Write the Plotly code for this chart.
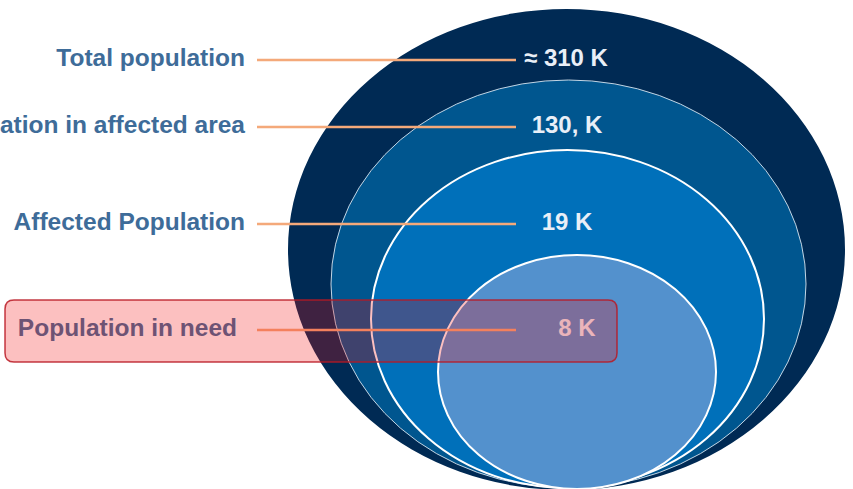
import plotly.graph_objects as go

# ---- data ----
categories = ["Total population", "Population in affected area",
              "Affected Population", "Population in need"]
value_labels = ["≈ 310 K", "130, K", "19 K", "8 K"]
highlighted = [False, False, False, True]

# ---- layout geometry (pixels of a 853x489 canvas) ----
W, H = 853, 489
row_y = [59, 126, 223, 329]
label_x = [245, 245, 245, 237]
line_x = [257, 516]
value_x = [566, 567, 567, 577]
# ellipse bounding boxes: x0, x1, y0, y1
ellipses = [
    (288, 845, 9, 490),
    (331, 806, 80, 488),
    (371, 764, 150, 488),
    (438, 716, 255, 489),
]
ell_fill = ["#002A54", "#00568F", "#0070BA", "#5391CD"]
ell_line = [None, "rgba(215,228,240,0.9)", "#FFFFFF", "#FFFFFF"]
ell_lw = [0, 1, 2, 2]

label_color = "#3E6C99"
value_color = "#E9EFF7"
leader_color = "#F4A97A"
FONT = "Liberation Sans, Arial, sans-serif"

fig = go.Figure()

shapes = []
for (x0, x1, y0, y1), fc, lc, lw in zip(ellipses, ell_fill, ell_line, ell_lw):
    shapes.append(dict(type="circle", xref="x", yref="y", x0=x0, x1=x1, y0=y0, y1=y1,
                       fillcolor=fc, line=dict(color=lc or fc, width=lw),
                       layer="below"))

# leader lines
for y in row_y:
    fig.add_trace(go.Scatter(x=line_x, y=[y + 1, y + 1], mode="lines",
                             line=dict(color=leader_color, width=2.5),
                             hoverinfo="skip", showlegend=False))

# category labels
fig.add_trace(go.Scatter(
    x=label_x, y=[y + 1 for y in row_y], mode="text",
    text=[f"<b>{c}</b>" for c in categories], textposition="middle left",
    textfont=dict(family=FONT, size=24.5, color=label_color),
    hoverinfo="skip", showlegend=False, cliponaxis=False))

# value labels
fig.add_trace(go.Scatter(
    x=value_x, y=[y + 1 for y in row_y], mode="text",
    text=[f"<b>{v}</b>" for v in value_labels], textposition="middle center",
    textfont=dict(family=FONT, size=24, color=value_color),
    hoverinfo="skip", showlegend=False, cliponaxis=False))

# highlight box over the highlighted row
def rounded_rect(x0, y0, x1, y1, r):
    return (f"M {x0+r},{y0} L {x1-r},{y0} Q {x1},{y0} {x1},{y0+r} "
            f"L {x1},{y1-r} Q {x1},{y1} {x1-r},{y1} L {x0+r},{y1} "
            f"Q {x0},{y1} {x0},{y1-r} L {x0},{y0+r} Q {x0},{y0} {x0+r},{y0} Z")

for y, h in zip(row_y, highlighted):
    if h:
        shapes.append(dict(type="path", xref="x", yref="y",
                           path=rounded_rect(5, y - 29, 617, y + 33, 9),
                           fillcolor="rgba(245,12,12,0.26)",
                           line=dict(color="rgba(185,25,35,0.85)", width=1.5),
                           layer="above"))

fig.update_layout(
    width=W, height=H, margin=dict(l=0, r=0, t=0, b=0),
    paper_bgcolor="white", plot_bgcolor="white",
    xaxis=dict(range=[0, W], visible=False, fixedrange=True),
    yaxis=dict(range=[H, 0], visible=False, fixedrange=True),
    shapes=shapes, showlegend=False,
)

fig.write_html("out.html", config={"displayModeBar": False})
